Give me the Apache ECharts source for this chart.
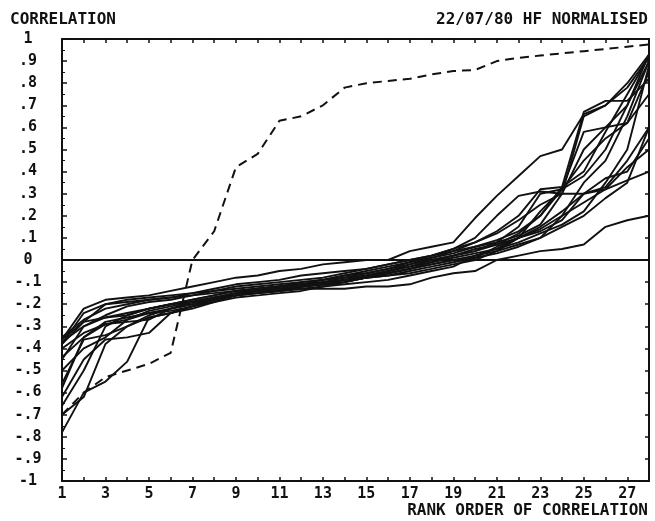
<!DOCTYPE html>
<html>
<head>
<meta charset="utf-8">
<script src="https://cdn.jsdelivr.net/npm/echarts@6/dist/echarts.min.js"></script>
<style>
  html, body { margin: 0; padding: 0; background: #fff; }
  #main { width: 655px; height: 521px; }
</style>
</head>
<body>
<div id="main"></div>
<script>
// rank order 1..28
const ranks = [1,2,3,4,5,6,7,8,9,10,11,12,13,14,15,16,17,18,19,20,21,22,23,24,25,26,27,28];

// dashed curve
const dashedRun = [-0.70,-0.60,-0.53,-0.50,-0.47,-0.42,0.00,0.13,0.42,0.48,0.63,0.65,0.70,0.78,
  0.80,0.81,0.82,0.84,0.855,0.86,0.90,0.915,0.925,0.935,0.945,0.955,0.965,0.975];

// solid curves (approx)
const solidRuns = [
  [-0.36,-0.22,-0.18,-0.17,-0.16,-0.14,-0.12,-0.10,-0.08,-0.07,-0.05,-0.04,-0.02,-0.01,0.00,0.00,0.04,0.06,0.08,0.19,0.29,0.38,0.47,0.50,0.66,0.70,0.78,0.92],
  [-0.38,-0.28,-0.20,-0.18,-0.17,-0.16,-0.15,-0.13,-0.11,-0.10,-0.09,-0.07,-0.06,-0.05,-0.04,-0.02,0.00,0.02,0.05,0.10,0.20,0.29,0.31,0.30,0.30,0.33,0.45,0.60],
  [-0.45,-0.30,-0.26,-0.24,-0.22,-0.20,-0.19,-0.17,-0.16,-0.15,-0.14,-0.13,-0.13,-0.13,-0.12,-0.12,-0.11,-0.08,-0.06,-0.05,0.00,0.02,0.04,0.05,0.07,0.15,0.18,0.20],
  [-0.78,-0.60,-0.55,-0.46,-0.26,-0.24,-0.22,-0.19,-0.17,-0.16,-0.15,-0.14,-0.12,-0.10,-0.08,-0.06,-0.04,-0.02,0.00,0.02,0.05,0.10,0.22,0.32,0.45,0.55,0.62,0.85],
  [-0.62,-0.45,-0.36,-0.35,-0.33,-0.24,-0.21,-0.18,-0.16,-0.15,-0.14,-0.12,-0.11,-0.10,-0.08,-0.05,-0.03,0.00,0.02,0.04,0.08,0.15,0.30,0.32,0.38,0.50,0.70,0.93],
  [-0.37,-0.30,-0.25,-0.21,-0.19,-0.18,-0.16,-0.15,-0.14,-0.13,-0.12,-0.11,-0.09,-0.07,-0.05,-0.03,-0.01,0.01,0.03,0.06,0.09,0.13,0.20,0.32,0.58,0.60,0.62,0.75],
  [-0.66,-0.50,-0.30,-0.25,-0.22,-0.20,-0.18,-0.16,-0.14,-0.13,-0.12,-0.11,-0.10,-0.09,-0.08,-0.07,-0.06,-0.04,-0.02,0.00,0.04,0.10,0.14,0.20,0.26,0.32,0.42,0.50],
  [-0.35,-0.27,-0.22,-0.20,-0.18,-0.17,-0.15,-0.14,-0.13,-0.12,-0.11,-0.10,-0.09,-0.07,-0.06,-0.04,-0.02,0.01,0.04,0.08,0.13,0.20,0.32,0.33,0.67,0.72,0.72,0.82],
  [-0.56,-0.36,-0.34,-0.30,-0.25,-0.22,-0.19,-0.17,-0.15,-0.14,-0.13,-0.12,-0.11,-0.09,-0.07,-0.05,-0.03,-0.01,0.01,0.03,0.05,0.08,0.12,0.16,0.22,0.35,0.50,0.88],
  [-0.40,-0.33,-0.29,-0.27,-0.23,-0.21,-0.19,-0.17,-0.15,-0.13,-0.12,-0.10,-0.09,-0.08,-0.06,-0.04,-0.01,0.02,0.04,0.06,0.08,0.11,0.16,0.30,0.50,0.60,0.70,0.90],
  [-0.70,-0.62,-0.38,-0.30,-0.26,-0.24,-0.21,-0.19,-0.16,-0.14,-0.13,-0.12,-0.10,-0.09,-0.08,-0.07,-0.05,-0.03,-0.01,0.01,0.06,0.10,0.15,0.22,0.30,0.37,0.40,0.55],
  [-0.36,-0.28,-0.26,-0.25,-0.22,-0.20,-0.18,-0.16,-0.14,-0.13,-0.12,-0.11,-0.10,-0.08,-0.07,-0.05,-0.02,0.00,0.02,0.05,0.07,0.10,0.13,0.18,0.30,0.32,0.36,0.40],
  [-0.50,-0.40,-0.35,-0.27,-0.24,-0.22,-0.20,-0.17,-0.15,-0.14,-0.13,-0.12,-0.11,-0.10,-0.08,-0.06,-0.04,-0.02,0.00,0.01,0.03,0.06,0.10,0.20,0.35,0.45,0.65,0.90],
  [-0.38,-0.24,-0.20,-0.19,-0.18,-0.17,-0.16,-0.14,-0.12,-0.11,-0.10,-0.09,-0.08,-0.06,-0.04,-0.02,0.00,0.02,0.05,0.08,0.12,0.18,0.25,0.30,0.65,0.70,0.80,0.93],
  [-0.44,-0.35,-0.28,-0.26,-0.24,-0.23,-0.21,-0.18,-0.16,-0.15,-0.14,-0.13,-0.12,-0.11,-0.10,-0.09,-0.07,-0.05,-0.03,0.02,0.04,0.07,0.10,0.15,0.20,0.28,0.35,0.60],
  [-0.58,-0.35,-0.29,-0.28,-0.27,-0.22,-0.20,-0.18,-0.16,-0.14,-0.13,-0.12,-0.11,-0.09,-0.08,-0.06,-0.04,-0.01,0.02,0.04,0.07,0.12,0.20,0.33,0.40,0.58,0.75,0.92]
];

const font = '"DejaVu Sans Mono", monospace';
const ink = '#111';

function yLabel(v) {
  v = Math.round(v * 10) / 10;
  if (v === 0) return '0';
  if (Math.abs(v) === 1) return v < 0 ? '-1' : '1';
  const s = Math.abs(v).toFixed(1).replace(/^0/, '');
  return (v < 0 ? '-' : '') + s;
}

const myChart = echarts.init(document.getElementById('main'));

const series = solidRuns.map((run, i) => ({
  name: 'run' + (i + 1),
  type: 'line',
  data: ranks.map((r, k) => [r, run[k]]),
  symbol: 'none',
  silent: true,
  lineStyle: { color: ink, width: 1.9 },
  z: 3
}));

series.push({
  name: 'dashed',
  type: 'line',
  data: ranks.map((r, k) => [r, dashedRun[k]]),
  symbol: 'none',
  silent: true,
  lineStyle: { color: ink, width: 2, type: [9, 6] },
  z: 4,
  markLine: {
    silent: true,
    symbol: 'none',
    label: { show: false },
    lineStyle: { color: ink, width: 2, type: 'solid' },
    data: [{ yAxis: 0 }]
  }
});

const option = {
  backgroundColor: '#fff',
  animation: false,
  grid: { left: 62, right: 6, top: 39, bottom: 40 },
  xAxis: [{
    type: 'value', min: 1, max: 28, interval: 1,
    axisLine: { show: true, onZero: false, lineStyle: { color: ink, width: 2 } },
    axisTick: { show: true, inside: true, length: 4, lineStyle: { color: ink, width: 1.5 } },
    axisLabel: {
      color: ink, fontFamily: font, fontSize: 15, fontWeight: 'bold', margin: 6,
      formatter: v => (v % 2 === 1 ? String(v) : '')
    },
    splitLine: { show: false }
  }, {
    type: 'value', min: 1, max: 28, interval: 1, position: 'top',
    axisLine: { show: true, onZero: false, lineStyle: { color: ink, width: 2 } },
    axisTick: { show: true, inside: true, length: 4, lineStyle: { color: ink, width: 1.5 } },
    axisLabel: { show: false },
    splitLine: { show: false }
  }],
  yAxis: [{
    type: 'value', min: -1, max: 1, interval: 0.1,
    axisLine: { show: true, onZero: false, lineStyle: { color: ink, width: 2 } },
    axisTick: { show: true, inside: true, length: 5, lineStyle: { color: ink, width: 1.5 } },
    minorTick: { show: true, splitNumber: 2, length: 3, lineStyle: { color: ink, width: 1 } },
    axisLabel: {
      color: ink, fontFamily: font, fontSize: 15, fontWeight: 'bold', align: 'center', margin: 34,
      formatter: yLabel
    },
    splitLine: { show: false }
  }, {
    type: 'value', min: -1, max: 1, interval: 0.1, position: 'right',
    axisLine: { show: true, onZero: false, lineStyle: { color: ink, width: 2 } },
    axisTick: { show: true, inside: true, length: 4, lineStyle: { color: ink, width: 1.5 } },
    axisLabel: { show: false },
    splitLine: { show: false }
  }],
  graphic: [
    { type: 'text', left: 10, top: 12,
      style: { text: 'CORRELATION', fill: ink, font: 'bold 16px ' + font } },
    { type: 'text', right: 7, top: 12,
      style: { text: '22/07/80 HF NORMALISED', fill: ink, font: 'bold 16px ' + font } },
    { type: 'text', right: 7, top: 503,
      style: { text: 'RANK ORDER OF CORRELATION', fill: ink, font: 'bold 16px ' + font } }
  ],
  series: series
};

myChart.setOption(option, true);
window.addEventListener('resize', function () {
  myChart.resize();
});
</script>
</body>
</html>
